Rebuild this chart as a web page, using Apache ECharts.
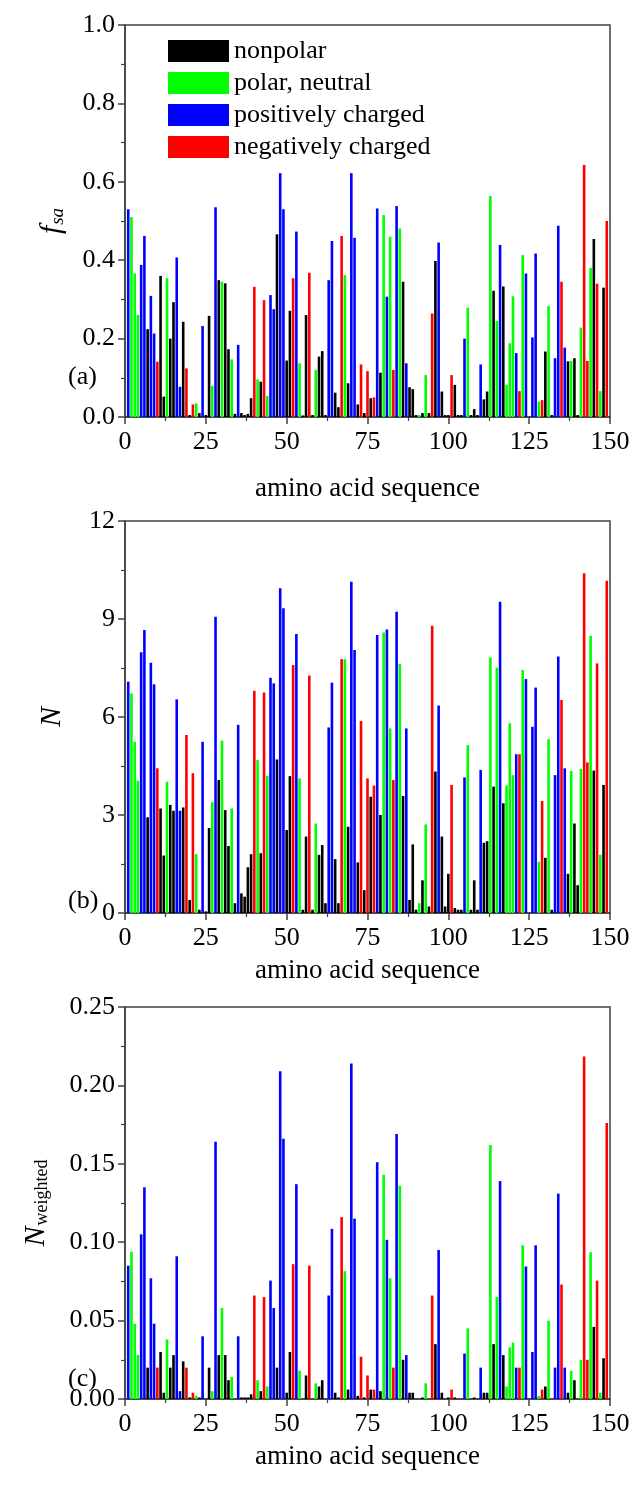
<!DOCTYPE html>
<html><head><meta charset="utf-8">
<script src="https://cdn.jsdelivr.net/npm/echarts@6/dist/echarts.min.js"></script>
<style>html,body{margin:0;padding:0;background:#fff}#c{width:635px;height:1485px}</style>
</head><body><div id="c"></div>
<script>
// residue category: K nonpolar, P polar neutral, B positively charged, R negatively charged
const categories = (
 'B P P P B B K B B R ' + 'K K P K K B B K R K ' + 'R P K B K K P B K P ' + 'K K P K B K K K K R ' +
 'P K R P B B K B B K ' + 'K R B P K K R K P K ' + 'K K B B K K R P K B ' + 'B K R K R K R B K P ' +
 'B P R B P K B K K K ' + 'P K P K R K B K K K ' + 'R K K K B P K K K B ' + 'K K P K P B K P P P ' +
 'B R P B K B B P R K ' + 'P K B B R B K P K K ' + 'P R R P K R P K R').split(' ');
const residues = categories.map((c, i) => i + 1);

const fsa = [
 .53,.51,.366,.26,.388,.462,.224,.309,.213,.141,
 .36,.052,.354,.2,.293,.407,.077,.243,.124,.005,
 .032,.035,.01,.232,.005,.258,.079,.535,.349,.345,
 .341,.173,.147,.008,.184,.01,.005,.008,.048,.332,
 .096,.09,.298,.054,.311,.275,.466,.622,.53,.144,
 .271,.354,.473,.137,.004,.26,.368,.005,.12,.154,
 .168,.005,.349,.449,.062,.025,.462,.362,.086,.622,
 .457,.032,.134,.01,.117,.048,.05,.532,.113,.515,
 .307,.46,.12,.538,.481,.345,.137,.076,.071,.005,
 .005,.01,.107,.01,.264,.398,.445,.065,.005,.005,
 .107,.082,.005,.005,.2,.279,.005,.02,.005,.134,
 .045,.065,.564,.322,.245,.439,.333,.082,.188,.308,
 .163,.066,.413,.366,0,.203,.417,.039,.043,.167,
 .283,.005,.15,.488,.345,.177,.142,.143,.15,.005,
 .228,.643,.143,.38,.454,.34,.066,.33,.5];

const nContacts = [
 7.08,6.72,5.24,4.05,7.98,8.66,2.93,7.66,7.0,4.43,
 3.2,1.76,4.02,3.31,3.13,6.54,3.13,3.23,5.45,0.4,
 4.28,1.8,0.1,5.24,0.05,2.6,3.39,9.07,4.07,5.28,
 3.15,2.05,3.2,0.3,5.76,0.6,0.5,1.4,1.8,6.8,
 4.68,1.83,6.75,4.2,7.2,7.03,4.7,9.94,9.33,2.54,
 4.19,7.59,8.54,4.12,0.1,2.34,7.27,0.1,2.74,1.78,
 2.08,0.3,5.68,7.05,1.65,0.3,7.77,7.77,2.64,10.14,
 8.05,1.55,5.88,0.7,4.12,3.56,3.9,8.51,3.0,8.59,
 8.68,5.65,4.07,9.22,7.62,3.58,5.65,0.4,2.1,0.1,
 0.3,1.0,2.71,0.2,8.79,4.33,6.35,2.34,0.2,1.2,
 3.92,0.15,0.1,0.1,4.15,5.14,0.1,1.0,0.1,4.38,
 2.15,2.2,7.82,3.87,7.51,9.53,3.36,3.9,5.81,4.22,
 4.86,4.86,7.44,7.16,0,5.7,6.9,1.57,3.43,1.69,
 5.32,0.1,4.22,7.85,6.52,4.43,1.2,4.35,2.74,0.85,
 4.41,10.4,4.61,8.49,4.36,7.64,1.78,3.92,10.17];

const nWeighted = [
 .085,.094,.048,.028,.105,.135,.02,.077,.048,.02,
 .03,.004,.038,.02,.028,.091,.005,.024,.02,.001,
 .004,.002,.001,.04,0,.02,.005,.164,.028,.058,
 .028,.012,.014,0,.04,.001,.001,.001,.003,.066,
 .012,.005,.065,.008,.0755,.058,.02,.209,.166,.004,
 .03,.086,.137,.018,0,.015,.085,0,.01,.008,
 .012,0,.066,.1085,.004,.001,.116,.0815,.006,.214,
 .115,.002,.027,.001,.015,.006,.006,.151,.005,.143,
 .1015,.077,.02,.169,.136,.025,.028,.004,.004,0,
 0,.001,.01,0,.066,.035,.095,.004,0,.001,
 .006,.001,0,0,.029,.045,0,.001,0,.02,
 .004,.004,.162,.035,.065,.139,.028,.008,.033,.036,
 .02,.02,.098,.0845,0,.03,.098,.002,.006,.008,
 .05,0,.02,.131,.073,.02,.004,.018,.012,0,
 .025,.2185,.025,.0936,.046,.0755,.004,.026,.176];

const catCodes = ['K','P','B','R'];
const catNames = ['nonpolar','polar, neutral','positively charged','negatively charged'];
const catColors = ['#000000','#00ff00','#0000ff','#ff0000'];
const xTicks = [0, 25, 50, 75, 100, 125, 150];

const FONT = '"Liberation Serif", "Times New Roman", serif';
const panels = [
  {values: fsa, top: 25, max: 1.0, interval: 0.2, dec: 1, label: '(a)', labelTop: 364,
   name: '{i|f}{s|sa}', gap: 58},
  {values: nContacts, top: 521, max: 12, interval: 3, dec: 0, label: '(b)', labelTop: 888,
   name: '{i|N}', gap: 58},
  {values: nWeighted, top: 1007, max: 0.25, interval: 0.05, dec: 2, label: '(c)', labelTop: 1366,
   name: '{i|N}{w|weighted}', gap: 74}
];
const H = 392;

const grids = [], xAxes = [], yAxes = [], series = [], graphics = [];
panels.forEach((p, k) => {
  grids.push({left: 125, right: 25, top: p.top, height: H, show: true,
    borderColor: '#404040', borderWidth: 1.5, backgroundColor: 'transparent'});
  xAxes.push({type: 'value', gridIndex: k, min: 0, max: 150, interval: 25,
    axisLine: {lineStyle: {color: '#404040', width: 1.5}},
    axisTick: {inside: false, length: 7, lineStyle: {color: '#404040', width: 1.5}},
    minorTick: {show: true, splitNumber: 2, length: 4, lineStyle: {color: '#404040', width: 1.2}},
    splitLine: {show: false},
    axisLabel: {fontFamily: FONT, fontSize: 26, color: '#000', margin: 12,
      formatter: v => xTicks.includes(v) ? String(v) : ''},
    name: 'amino acid sequence', nameLocation: 'middle', nameGap: k === 0 ? 58 : 44,
    nameTextStyle: {fontFamily: FONT, fontSize: 27, color: '#000'}});
  yAxes.push({type: 'value', gridIndex: k, min: 0, max: p.max, interval: p.interval,
    axisLine: {show: true, lineStyle: {color: '#404040', width: 1.5}},
    axisTick: {show: true, inside: false, length: 7, lineStyle: {color: '#404040', width: 1.5}},
    minorTick: {show: true, splitNumber: 2, length: 4, lineStyle: {color: '#404040', width: 1.2}},
    splitLine: {show: false},
    axisLabel: {fontFamily: FONT, fontSize: 26, color: '#000', margin: 10,
      formatter: v => v.toFixed(p.dec)},
    name: p.name, nameLocation: 'middle', nameGap: p.gap, nameRotate: 90,
    nameTextStyle: {rich: {
      i: {fontFamily: FONT, fontStyle: 'italic', fontSize: 30, color: '#000', verticalAlign: 'top', lineHeight: 30},
      s: {fontFamily: FONT, fontStyle: 'italic', fontSize: 19, color: '#000', verticalAlign: 'bottom', lineHeight: 19, padding: [20, 0, 0, 1]},
      w: {fontFamily: FONT, fontSize: 18, color: '#000', verticalAlign: 'bottom', lineHeight: 18, padding: [20, 0, 0, 1]}
    }}});
  catCodes.forEach((code, j) => {
    const data = [];
    residues.forEach((r, i) => { if (categories[i] === code) data.push([r, p.values[i]]); });
    series.push({type: 'bar', name: catNames[j], xAxisIndex: k, yAxisIndex: k,
      data: data, barWidth: 2.6, barGap: '-100%', silent: true,
      itemStyle: {color: catColors[j]}});
  });
  graphics.push({type: 'text', left: 68, top: p.labelTop,
    style: {text: p.label, font: '26px ' + FONT, fill: '#000'}});
});

const chart = echarts.init(document.getElementById('c'), null, {renderer: 'canvas'});
chart.setOption({
  animation: false,
  backgroundColor: '#fff',
  grid: grids, xAxis: xAxes, yAxis: yAxes, series: series, graphic: graphics,
  legend: {data: catNames, left: 163, top: 33, orient: 'vertical', icon: 'rect',
    itemWidth: 61, itemHeight: 22, itemGap: 6, selectedMode: false,
    textStyle: {fontFamily: FONT, fontSize: 26, color: '#000', lineHeight: 26}}
});
</script></body></html>
